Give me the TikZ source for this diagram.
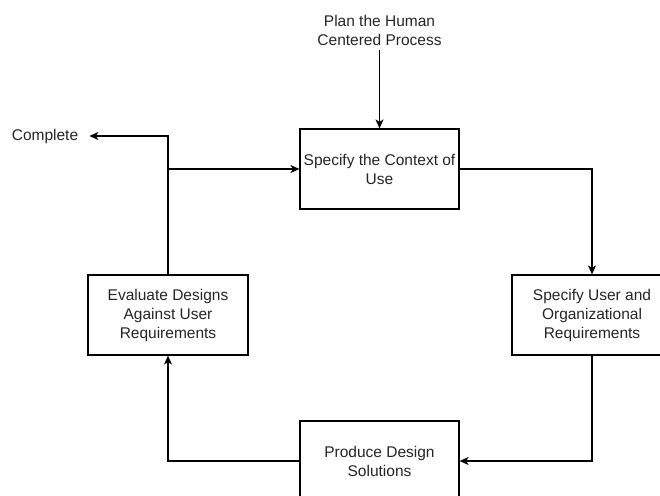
\documentclass[tikz,border=0pt]{standalone}
\usepackage{fontspec}
\setmainfont{Liberation Sans}
\usetikzlibrary{arrows.meta}
\begin{document}
\begin{tikzpicture}[x=1pt,y=1pt,
  every node/.style={font=\fontsize{15.5}{19}\selectfont, text=black!85},
  procbox/.style={draw=black, line width=1.2pt, fill=white, minimum width=159pt, minimum height=80pt, align=center, inner sep=0pt},
  conn/.style={draw=black, line width=1.2pt, -{Stealth[length=9pt,width=8pt,inset=2.5pt]}},
  plain/.style={draw=black, line width=1.2pt}]
\useasboundingbox (0,0) rectangle (660,-495);
\clip (0,0) rectangle (660,-495);
\fill[white] (0,0) rectangle (660,-495);
\node[procbox] (ctx) at (379.5,-169) {Specify the Context of\\Use};
\node[procbox, minimum width=160pt] (req) at (592,-315) {Specify User and\\Organizational\\Requirements};
\node[procbox] (prod) at (379.5,-461) {Produce Design\\Solutions};
\node[procbox, minimum width=160pt] (eval) at (168,-315) {Evaluate Designs\\Against User\\Requirements};
\node[align=center, inner sep=0pt, minimum height=40pt] (plan) at (379.5,-30) {Plan the Human\\Centered Process};
\node[inner xsep=11pt, inner ysep=0pt] (complete) at (45,-136) {Complete};
\draw[conn] (plan.south) -- (ctx.north);
\draw[conn] (eval.north) |- (complete.east);
\draw[conn] (eval.north) |- (ctx.west);
\draw[conn] (ctx.east) -| (req.north);
\draw[conn] (req.south) |- (prod.east);
\draw[conn] (prod.west) -| (eval.south);
\end{tikzpicture}
\end{document}
